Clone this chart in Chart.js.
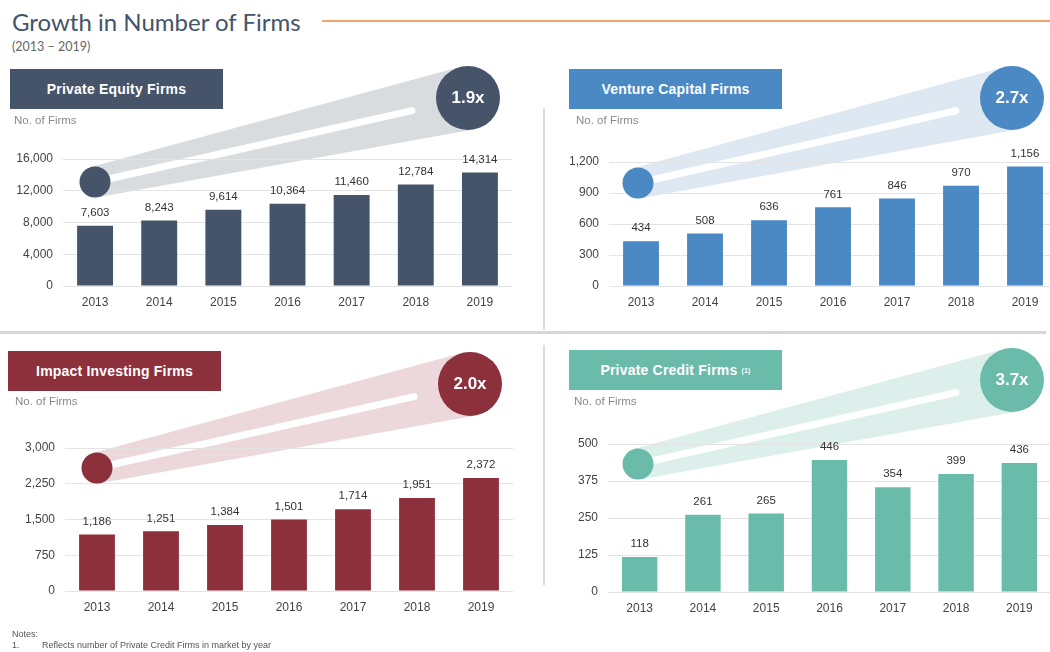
<!DOCTYPE html>
<html>
<head>
<meta charset="utf-8">
<script src="https://cdn.jsdelivr.net/npm/chart.js@4.4.1/dist/chart.umd.min.js"></script>
<style>
  body { margin: 0; background: #fff; }
  #page { position: relative; width: 1050px; height: 652px; overflow: hidden; font-family: "Liberation Sans", Arial, sans-serif; }
  .abs { position: absolute; }
  .title { left: 12px; top: 7px; font-family: Lato, "Open Sans", sans-serif; font-size: 24px; color: #44546a; white-space: nowrap; }
  .rule { left: 322px; top: 20px; width: 740px; height: 2px; background: #f2a46c; }
  .sub { left: 12px; top: 39px; font-family: Lato, sans-serif; font-size: 12.5px; color: #666; }
  .head { height: 40px; width: 213px; color: #fff; font-weight: bold; font-size: 14px; display: flex; align-items: center; justify-content: center; letter-spacing: 0.2px; }
  .head sup { font-size: 7px; margin-left: 4px; }
  .unit { font-size: 11.5px; color: #8a8a8a; }
  .badge { width: 64px; height: 64px; line-height: 64px; text-align: center; color: #fff; font-weight: bold; font-size: 17px; z-index: 2; }
  canvas { position: absolute; }
  .vsep { left: 543px; width: 2px; background: #dcdcdc; }
  .hsep { left: 0; top: 331px; width: 1046px; height: 3px; background: #d6d6d6; }
  .note { font-size: 9px; color: #555; white-space: nowrap; }
</style>
</head>
<body>
<div id="page">
  <div class="abs title">Growth in Number of Firms</div>
  <div class="abs rule"></div>
  <div class="abs sub">(2013 – 2019)</div>

  <div class="abs vsep" style="top:108px;height:222px"></div>
  <div class="abs vsep" style="top:345px;height:240px"></div>
  <div class="abs hsep"></div>

  <canvas id="pe" width="540" height="270" style="left:0;top:60px"></canvas>
  <canvas id="vc" width="520" height="270" style="left:540px;top:60px"></canvas>
  <canvas id="impact" width="540" height="290" style="left:0;top:340px"></canvas>
  <canvas id="credit" width="520" height="290" style="left:540px;top:340px"></canvas>

  <div class="abs head" style="left:10px;top:69px;background:#46546a">Private Equity Firms</div>
  <div class="abs unit" style="left:14px;top:114px">No. of Firms</div>
  <div class="abs badge" id="b-pe" style="left:436px;top:66px"></div>

  <div class="abs head" style="left:569px;top:69px;background:#4a89c4">Venture Capital Firms</div>
  <div class="abs unit" style="left:576px;top:114px">No. of Firms</div>
  <div class="abs badge" id="b-vc" style="left:980px;top:66px"></div>

  <div class="abs head" style="left:8px;top:351px;background:#8c303c">Impact Investing Firms</div>
  <div class="abs unit" style="left:15px;top:395px">No. of Firms</div>
  <div class="abs badge" id="b-impact" style="left:438px;top:352px"></div>

  <div class="abs head" style="left:569px;top:350px;background:#6bbbab">Private Credit Firms<sup>(1)</sup></div>
  <div class="abs unit" style="left:574px;top:395px">No. of Firms</div>
  <div class="abs badge" id="b-credit" style="left:980px;top:348px"></div>

  <div class="abs note" style="left:12px;top:629px">Notes:</div>
  <div class="abs note" style="left:12px;top:640px">1.</div>
  <div class="abs note" style="left:42px;top:640px">Reflects number of Private Credit Firms in market by year</div>
</div>
<script>
// data
const years = ['2013', '2014', '2015', '2016', '2017', '2018', '2019'];
const peFirms = [7603, 8243, 9614, 10364, 11460, 12784, 14314];
const vcFirms = [434, 508, 636, 761, 846, 970, 1156];
const impactFirms = [1186, 1251, 1384, 1501, 1714, 1951, 2372];
const creditFirms = [118, 261, 265, 446, 354, 399, 436];
const peTicks = [0, 4000, 8000, 12000, 16000];
const vcTicks = [0, 300, 600, 900, 1200];
const impactTicks = [0, 750, 1500, 2250, 3000];
const creditTicks = [0, 125, 250, 375, 500];
const growth = ['1.9x', '2.7x', '2.0x', '3.7x'];

// band between the two circles + circles + value labels
const decor = {
  id: 'decor',
  beforeDraw(chart, args, o) {
    const ctx = chart.ctx;
    const [x1, y1, r1] = o.small, [x2, y2, r2] = o.big;
    const dx = x2 - x1, dy = y2 - y1, d = Math.hypot(dx, dy);
    const th = Math.atan2(dy, dx), a = Math.acos((r1 - r2) / d);
    const pts = [th - a, th + a].map(t => [Math.cos(t), Math.sin(t)]);
    ctx.save();
    ctx.fillStyle = o.light;
    ctx.beginPath();
    ctx.moveTo(x1 + r1 * pts[0][0], y1 + r1 * pts[0][1]);
    ctx.lineTo(x2 + r2 * pts[0][0], y2 + r2 * pts[0][1]);
    ctx.lineTo(x2 + r2 * pts[1][0], y2 + r2 * pts[1][1]);
    ctx.lineTo(x1 + r1 * pts[1][0], y1 + r1 * pts[1][1]);
    ctx.closePath();
    ctx.fill();
    ctx.strokeStyle = '#fff';
    ctx.lineWidth = 7;
    ctx.lineCap = 'round';
    ctx.beginPath();
    ctx.moveTo(x1, y1);
    ctx.lineTo(x1 + dx * 0.85, y1 + dy * 0.85);
    ctx.stroke();
    ctx.restore();
  },
  beforeDatasetsDraw(chart, args, o) {
    const ctx = chart.ctx;
    ctx.save();
    ctx.fillStyle = o.color;
    [o.small, o.big].forEach(([x, y, r]) => {
      ctx.beginPath();
      ctx.arc(x, y, r, 0, Math.PI * 2);
      ctx.fill();
    });
    ctx.restore();
  },
  afterDatasetsDraw(chart) {
    const ctx = chart.ctx;
    const ds = chart.data.datasets[0];
    ctx.save();
    ctx.font = '11.5px "Liberation Sans", Arial, sans-serif';
    ctx.fillStyle = '#333';
    ctx.textAlign = 'center';
    ctx.textBaseline = 'middle';
    chart.getDatasetMeta(0).data.forEach((bar, i) => {
      ctx.fillText(ds.data[i].toLocaleString('en-US'), bar.x, bar.y - 13);
    });
    ctx.restore();
  }
};

function makeChart(id, values, ticks, color, light, yWidth, pad, small, big) {
  return new Chart(document.getElementById(id), {
    type: 'bar',
    data: {
      labels: years,
      datasets: [{ data: values, backgroundColor: color, barPercentage: 0.56, categoryPercentage: 1 }]
    },
    options: {
      responsive: false,
      animation: false,
      layout: { padding: pad },
      plugins: {
        legend: { display: false },
        tooltip: { enabled: false },
        decor: { small, big, color, light }
      },
      scales: {
        x: {
          grid: { display: false },
          border: { display: false },
          ticks: { color: '#444', padding: 1, font: { size: 12, family: '"Liberation Sans", Arial, sans-serif' } },
          afterFit(s) { s.height = 30; }
        },
        y: {
          min: ticks[0],
          max: ticks[ticks.length - 1],
          border: { display: false },
          grid: { color: '#e3e3e3', drawTicks: false },
          ticks: {
            stepSize: ticks[1] - ticks[0],
            padding: 10,
            color: '#444',
            font: { size: 12, family: '"Liberation Sans", Arial, sans-serif' },
            callback: v => v.toLocaleString('en-US')
          },
          afterFit(s) { s.width = yWidth; }
        }
      }
    },
    plugins: [decor]
  });
}

makeChart('pe', peFirms, peTicks, '#46546a', '#d9dcdf', 63,
  { left: 0, top: 99, right: 28, bottom: 14 }, [95, 122, 15.5], [468, 38, 32]);
makeChart('vc', vcFirms, vcTicks, '#4a89c4', '#dde8f3', 69,
  { left: 0, top: 102, right: 3, bottom: 14 }, [98, 123, 15.5], [472, 38, 32]);
makeChart('impact', impactFirms, impactTicks, '#8c303c', '#ecd7da', 65,
  { left: 0, top: 108, right: 27, bottom: 9 }, [97, 128, 15.5], [470, 44, 32]);
makeChart('credit', creditFirms, creditTicks, '#6bbbab', '#dcefeb', 68,
  { left: 0, top: 104, right: 9, bottom: 8 }, [98, 124, 15.5], [472, 40, 32]);

['pe', 'vc', 'impact', 'credit'].forEach((k, i) => {
  document.getElementById('b-' + k).textContent = growth[i];
});
</script>
</body>
</html>
